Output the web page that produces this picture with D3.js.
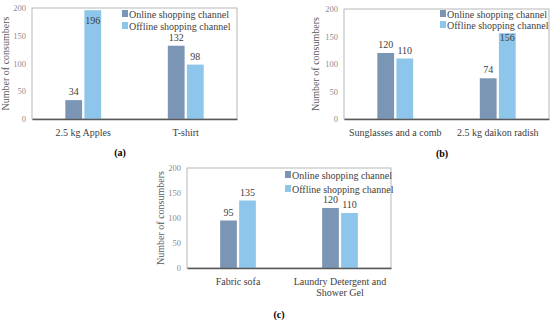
<!DOCTYPE html>
<html>
<head>
<meta charset="utf-8">
<script src="https://cdn.jsdelivr.net/npm/d3@7"></script>
<style>
  html, body { margin: 0; padding: 0; background: #fff; }
  svg { display: block; }
  text { font-family: "Liberation Serif", "DejaVu Serif", serif; }
</style>
</head>
<body>
<svg id="chart" width="550" height="325"></svg>
<script>
// ---- data ----
const seriesNames = ["Online shopping channel", "Offline shopping channel"];
const yTicks = [0, 50, 100, 150, 200];
const yMax = 200;
const yTitle = "Number of consumbers";

const catsA = ["2.5 kg Apples", "T-shirt"];
const onlineA = [34, 132];
const offlineA = [196, 98];

const catsB = ["Sunglasses and a comb", "2.5 kg daikon radish"];
const onlineB = [120, 74];
const offlineB = [110, 156];

const catsC = ["Fabric sofa", "Laundry Detergent and|Shower Gel"];
const onlineC = [95, 120];
const offlineC = [135, 110];

const panelLabels = ["(a)", "(b)", "(c)"];

// ---- styles ----
const colors = ["#7b96b5", "#8ec5ea"];
const svg = d3.select("#chart");

function drawPanel(cfg) {
  const { cats, online, offline, left, right, top, bottom, legendX, legendY, legendGap, label, labelX, labelY, titleX } = cfg;
  const g = svg.append("g");
  const x0 = d3.scaleBand().domain(cats).range([left, right]).paddingInner(0.65).paddingOuter(0.325);
  const x1 = d3.scaleBand().domain(seriesNames).range([0, x0.bandwidth()]).paddingInner(0.12);
  const y = d3.scaleLinear().domain([0, yMax]).range([bottom, top]);

  // frame
  g.append("rect").attr("x", left).attr("y", top).attr("width", right - left).attr("height", bottom - top)
    .attr("fill", "none").attr("stroke", "#a6a6a6").attr("stroke-width", 0.8);

  // y ticks labels
  const yAxis = d3.axisLeft(y).tickValues(yTicks).tickSize(0).tickPadding(6);
  const ya = g.append("g").attr("transform", `translate(${left},0)`).call(yAxis);
  ya.select(".domain").remove();
  ya.selectAll("text").attr("font-family", "Liberation Serif, serif").attr("font-size", 8.5).attr("fill", "#8c8c8c");

  // y title
  g.append("text").attr("transform", `translate(${titleX},${(top + bottom) / 2}) rotate(-90)`)
    .attr("text-anchor", "middle").attr("font-size", 10).attr("fill", "#595959").text(yTitle);

  // bars
  const data = cats.map((c, i) => ({ cat: c, vals: [online[i], offline[i]] }));
  const legendBottom = legendY + legendGap + 4;
  data.forEach(d => {
    d.vals.forEach((v, k) => {
      const bx = x0(d.cat) + x1(seriesNames[k]);
      const bw = x1.bandwidth();
      g.append("rect").attr("x", bx).attr("y", y(v)).attr("width", bw).attr("height", y(0) - y(v))
        .attr("fill", colors[k]);
      let ly = y(v) - 5;
      const cx = bx + bw / 2;
      if (cx + 8 > legendX && ly - 10 < legendBottom) ly = legendBottom + 12;
      ly = Math.max(ly, top + 16);
      g.append("text").attr("x", cx).attr("y", ly).attr("text-anchor", "middle")
        .attr("font-size", 10).attr("fill", "#404040").text(v);
    });
  });

  // x axis
  const xAxis = d3.axisBottom(x0).tickSize(0).tickPadding(0).tickFormat("");
  const xa = g.append("g").attr("transform", `translate(0,${bottom})`).call(xAxis);
  xa.select(".domain").attr("stroke", "#595959").attr("stroke-width", 1.6);
  cats.forEach(c => {
    const lines = c.split("|");
    lines.forEach((ln, j) => {
      g.append("text").attr("x", x0(c) + x0.bandwidth() / 2).attr("y", bottom + 17 + j * 11)
        .attr("text-anchor", "middle").attr("font-size", 10).attr("fill", "#404040").text(ln);
    });
  });

  // legend
  seriesNames.forEach((s, k) => {
    const ly = legendY + k * legendGap;
    g.append("rect").attr("x", legendX).attr("y", ly - 4).attr("width", 6).attr("height", 7).attr("fill", colors[k]);
    g.append("text").attr("x", legendX + 7).attr("y", ly + 3.5).attr("font-size", 10).attr("fill", "#404040").text(s);
  });

  // panel label
  g.append("text").attr("x", labelX).attr("y", labelY).attr("text-anchor", "middle")
    .attr("font-size", 10).attr("font-weight", "bold").attr("fill", "#000").text(label);
}

drawPanel({ cats: catsA, online: onlineA, offline: offlineA, left: 32, right: 237, top: 8, bottom: 119,
  legendX: 122, legendY: 14, legendGap: 12, label: panelLabels[0], labelX: 120, labelY: 156, titleX: 9 });
drawPanel({ cats: catsB, online: onlineB, offline: offlineB, left: 344, right: 549, top: 9, bottom: 119,
  legendX: 440, legendY: 14, legendGap: 11, label: panelLabels[1], labelX: 442, labelY: 157, titleX: 319 });
drawPanel({ cats: catsC, online: onlineC, offline: offlineC, left: 187, right: 391, top: 168, bottom: 268,
  legendX: 285, legendY: 175, legendGap: 14, label: panelLabels[2], labelX: 279, labelY: 318, titleX: 164 });
</script>
</body>
</html>
